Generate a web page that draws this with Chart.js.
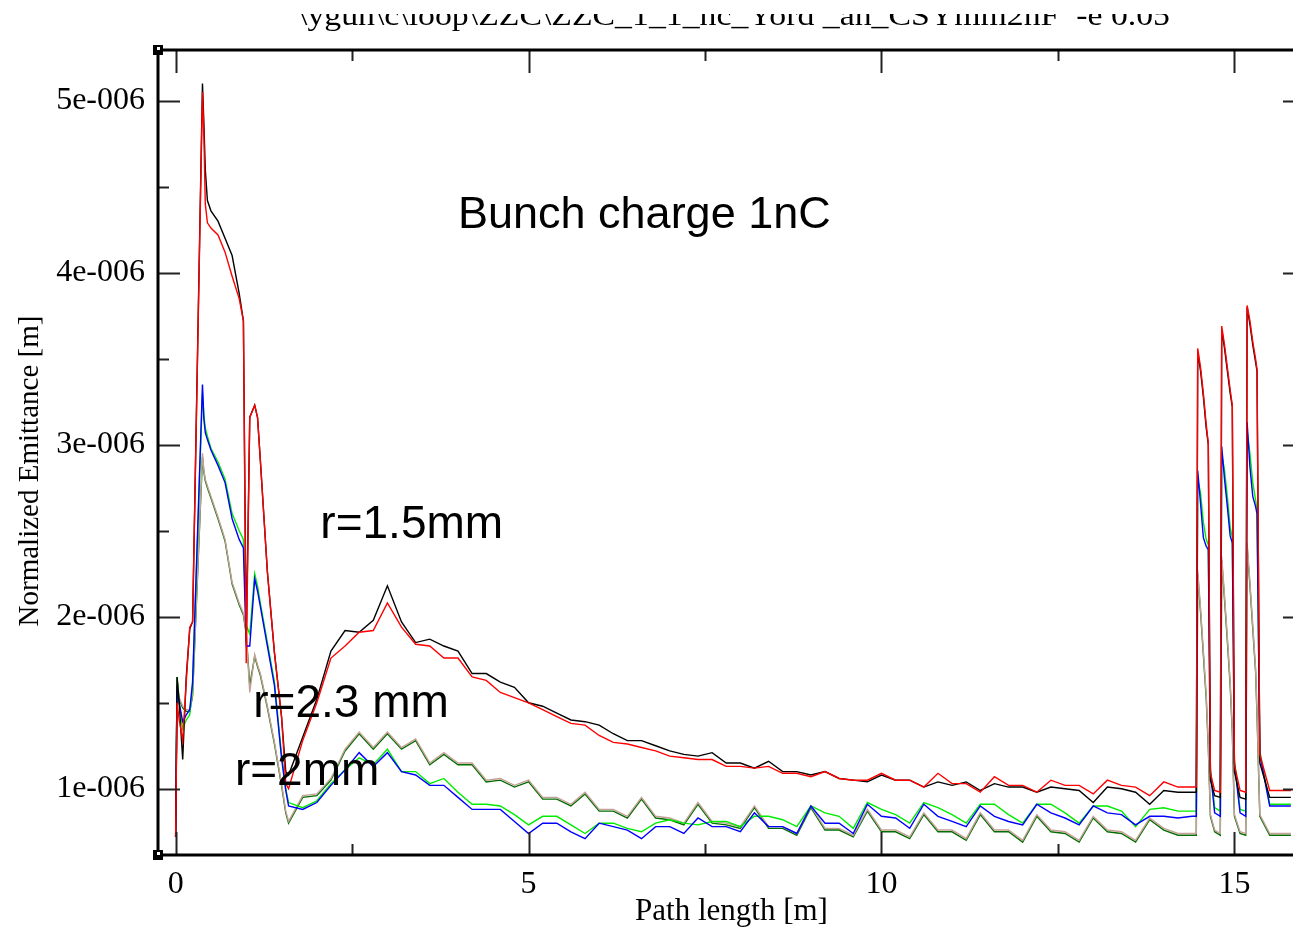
<!DOCTYPE html>
<html>
<head>
<meta charset="utf-8">
<title>Normalized emittance vs path length</title>
<script src="https://cdn.jsdelivr.net/npm/chart.js@4.4.1/dist/chart.umd.min.js"></script>
<style>
  html, body { margin: 0; padding: 0; background: #fff; overflow: hidden; }
  #wrap { position: relative; width: 1320px; height: 930px; }
</style>
</head>
<body>
<div id="wrap"><canvas id="emittance" width="1320" height="930"></canvas></div>
<script>
// path length [m]: dense near the gun, 0.2 m steps in the drift, dense again over the three spikes
const X_PATH = [
  0, 0.02, 0.05, 0.1, 0.15, 0.2, 0.24, 0.38, 0.4, 0.42, 0.45, 0.5, 0.6, 0.7, 0.8, 0.9, 0.96, 1.0, 1.05, 1.12, 1.16, 1.2, 1.3, 1.4, 1.5, 1.56, 1.6,
  1.8, 2.0, 2.2, 2.4, 2.6, 2.8, 3.0, 3.2, 3.4, 3.6,
  3.8, 4.0, 4.2, 4.4, 4.6, 4.8, 5.0, 5.2, 5.4, 5.6,
  5.8, 6.0, 6.2, 6.4, 6.6, 6.8, 7.0, 7.2, 7.4, 7.6,
  7.8, 8.0, 8.2, 8.4, 8.6, 8.8, 9.0, 9.2, 9.4, 9.6,
  9.8, 10.0, 10.2, 10.4, 10.6, 10.8, 11.0, 11.2, 11.4, 11.6,
  11.8, 12.0, 12.2, 12.4, 12.6, 12.8, 13.0, 13.2, 13.4, 13.6,
  13.8, 14.0, 14.2, 14.4,
  14.46, 14.48, 14.52, 14.56, 14.6, 14.63, 14.66, 14.72, 14.8,
  14.82, 14.86, 14.9, 14.94, 14.97, 15.0, 15.08, 15.16,
  15.18, 15.22, 15.26, 15.3, 15.32, 15.36, 15.5, 15.8
];

// normalized emittance, in units of 1e-006 m
const EMIT_BLACK = [
  0.72, 1.65, 1.5, 1.17, 1.65, 1.93, 1.97, 5.1, 4.87, 4.6, 4.42, 4.36, 4.3, 4.2, 4.1, 3.88, 3.72, 1.85, 3.16, 3.23, 3.16, 2.91, 2.26, 1.79, 1.42, 1.1, 1.08,
  1.3, 1.52, 1.8, 1.92, 1.91, 1.98, 2.18, 1.97, 1.85, 1.87,
  1.83, 1.8, 1.67, 1.67, 1.62, 1.59, 1.5, 1.48, 1.44, 1.4,
  1.39, 1.37, 1.32, 1.28, 1.28, 1.25, 1.22, 1.2, 1.19, 1.21,
  1.15, 1.15, 1.12, 1.16, 1.1, 1.1, 1.08, 1.1, 1.06, 1.05,
  1.04, 1.08, 1.05, 1.05, 1.01, 1.04, 1.02, 1.04, 0.99, 1.03,
  1.01, 1.01, 0.98, 1.01, 1.0, 0.99, 0.92, 1.01, 1.0, 0.98,
  0.91, 0.99, 0.98, 0.98,
  0.98, 3.54, 3.43, 3.28, 3.1, 3.0, 1.05, 0.96, 0.95,
  3.67, 3.56, 3.43, 3.3, 3.22, 1.1, 0.95, 0.94,
  3.8, 3.7, 3.58, 3.48, 3.43, 1.15, 0.95, 0.95
];
const EMIT_RED = [
  0.72, 1.5, 1.4, 1.28, 1.62, 1.94, 1.97, 5.05, 4.8, 4.4, 4.29, 4.26, 4.22, 4.12, 3.98, 3.85, 3.72, 1.73, 3.16, 3.23, 3.16, 2.91, 2.26, 1.79, 1.42, 1.03, 1.0,
  1.28, 1.5, 1.76, 1.83, 1.91, 1.92, 2.08, 1.94, 1.84, 1.83,
  1.76, 1.76, 1.65, 1.63, 1.56, 1.53, 1.5, 1.46, 1.42, 1.38,
  1.37, 1.31, 1.27, 1.26, 1.24, 1.22, 1.19, 1.18, 1.17, 1.17,
  1.13, 1.13, 1.12, 1.13, 1.09, 1.09, 1.07, 1.1, 1.06, 1.05,
  1.05, 1.09, 1.05, 1.05, 1.01, 1.09, 1.03, 1.03, 0.98, 1.07,
  1.02, 1.02, 0.98, 1.05, 1.02, 1.02, 0.97, 1.05, 1.02, 1.01,
  0.96, 1.04, 1.01, 1.01,
  1.01, 3.56, 3.45, 3.3, 3.12, 3.01, 1.09, 0.99, 0.98,
  3.69, 3.58, 3.45, 3.32, 3.23, 1.14, 0.99, 0.98,
  3.81, 3.72, 3.6, 3.5, 3.44, 1.2, 0.99, 0.99
];
const EMIT_GREEN = [
  0.72, 1.65, 1.5, 1.35, 1.4, 1.43, 1.6, 3.3, 3.17, 3.1, 3.05, 2.98, 2.9, 2.8, 2.6, 2.5, 2.45, 1.95, 1.9, 2.25, 2.18, 2.08, 1.85, 1.62, 1.2, 1.0, 0.92,
  0.89, 0.93, 1.03, 1.11, 1.18, 1.14, 1.23, 1.1, 1.1, 1.03,
  1.06, 0.98, 0.91, 0.91, 0.9, 0.85, 0.79, 0.84, 0.84, 0.79,
  0.74, 0.8, 0.8, 0.77, 0.75, 0.8, 0.82, 0.8, 0.79, 0.81,
  0.81, 0.78, 0.84, 0.84, 0.82, 0.78, 0.9, 0.86, 0.84, 0.77,
  0.92, 0.88, 0.85, 0.8, 0.92, 0.89, 0.85, 0.8, 0.91, 0.91,
  0.85, 0.8, 0.91, 0.91, 0.86, 0.8, 0.9, 0.9, 0.87, 0.78,
  0.88, 0.89, 0.87, 0.87,
  0.87, 2.8, 2.72, 2.55, 2.45, 2.42, 1.12, 0.89, 0.87,
  2.95, 2.85, 2.7, 2.52, 2.46, 1.17, 0.88, 0.87,
  3.08, 2.95, 2.78, 2.68, 2.62, 1.22, 0.91, 0.91
];
const EMIT_BLUE = [
  0.72, 1.6, 1.5, 1.39, 1.43, 1.46, 1.62, 3.35, 3.15, 3.07, 3.03, 2.97, 2.88, 2.78, 2.57, 2.45, 2.4, 1.83, 1.83, 2.22, 2.15, 2.06, 1.83, 1.6, 1.18, 0.99, 0.9,
  0.88, 0.92, 1.02, 1.11, 1.21, 1.13, 1.21, 1.1, 1.08, 1.02,
  1.02, 0.95, 0.88, 0.88, 0.88, 0.81, 0.74, 0.8, 0.8, 0.75,
  0.71, 0.8, 0.78, 0.76, 0.71, 0.78, 0.78, 0.74, 0.83, 0.78,
  0.78, 0.75, 0.86, 0.78, 0.78, 0.74, 0.9, 0.8, 0.8, 0.74,
  0.91, 0.84, 0.83, 0.77, 0.91, 0.84, 0.81, 0.78, 0.9, 0.84,
  0.81, 0.79, 0.91, 0.86, 0.83, 0.79, 0.9, 0.86, 0.85, 0.79,
  0.84, 0.84, 0.83, 0.84,
  0.84, 2.85, 2.66, 2.46, 2.41, 2.39, 1.1, 0.86, 0.84,
  2.99, 2.8, 2.64, 2.47, 2.43, 1.15, 0.86, 0.84,
  3.13, 2.87, 2.7, 2.64, 2.6, 1.2, 0.9, 0.9
];
const EMIT_BROWN = [
  0.72, 1.65, 1.53, 1.48, 1.46, 1.46, 1.55, 2.95, 2.85, 2.8, 2.76, 2.7, 2.58, 2.45, 2.2, 2.08, 2.02, 1.91, 1.56, 1.78, 1.72, 1.67, 1.48, 1.27, 1.03, 0.87, 0.81,
  0.96, 0.97, 1.06, 1.23, 1.33, 1.24, 1.33, 1.24, 1.29, 1.15,
  1.21, 1.15, 1.15, 1.05, 1.06, 1.02, 1.05, 0.95, 0.95, 0.91,
  0.98, 0.88, 0.88, 0.84, 0.95, 0.84, 0.83, 0.8, 0.92, 0.81,
  0.8, 0.78, 0.9, 0.78, 0.78, 0.74, 0.9, 0.77, 0.77, 0.73,
  0.88, 0.76, 0.76, 0.72, 0.86, 0.76, 0.76, 0.71, 0.86, 0.76,
  0.76, 0.7, 0.85, 0.76, 0.75, 0.7, 0.84, 0.76, 0.75, 0.7,
  0.83, 0.77, 0.74, 0.74,
  0.74, 2.27, 2.05, 1.8, 1.55, 1.26, 0.85, 0.76, 0.74,
  2.35, 2.12, 1.88, 1.62, 1.35, 0.85, 0.75, 0.74,
  2.43, 2.2, 1.95, 1.7, 1.45, 0.85, 0.74, 0.74
];
const EMIT_DKGREEN = [
  0.72, 1.63, 1.52, 1.47, 1.45, 1.45, 1.54, 2.93, 2.84, 2.79, 2.75, 2.69, 2.57, 2.44, 2.19, 2.07, 2.01, 1.9, 1.6, 1.77, 1.71, 1.66, 1.47, 1.26, 1.02, 0.86, 0.8,
  0.95, 0.96, 1.05, 1.22, 1.32, 1.23, 1.32, 1.23, 1.28, 1.14,
  1.2, 1.14, 1.14, 1.04, 1.05, 1.01, 1.04, 0.94, 0.94, 0.9,
  0.97, 0.87, 0.87, 0.83, 0.94, 0.83, 0.82, 0.79, 0.91, 0.8,
  0.79, 0.77, 0.89, 0.77, 0.77, 0.73, 0.89, 0.76, 0.76, 0.72,
  0.87, 0.75, 0.75, 0.71, 0.85, 0.75, 0.75, 0.7, 0.85, 0.75,
  0.75, 0.69, 0.84, 0.75, 0.74, 0.69, 0.83, 0.75, 0.74, 0.69,
  0.82, 0.76, 0.73, 0.73,
  0.73, 2.25, 2.03, 1.78, 1.53, 1.24, 0.84, 0.75, 0.73,
  2.33, 2.1, 1.86, 1.6, 1.33, 0.84, 0.74, 0.73,
  2.41, 2.18, 1.93, 1.68, 1.43, 0.84, 0.73, 0.73
];

const X_TICKS = [0, 5, 10, 15];
const X_MINOR_TICKS = [2.5, 7.5, 12.5];
const Y_TICKS = [1, 2, 3, 4, 5];
const Y_MINOR_TICKS = [1.5, 2.5, 3.5, 4.5];

// first dataset is drawn on top
const SERIES = [
  { label: 'r=1.5mm (a)', values: EMIT_RED, color: 'rgb(255, 0, 0)' },
  { label: 'r=1.5mm (b)', values: EMIT_BLACK, color: 'rgb(0, 0, 0)' },
  { label: 'r=2mm (a)', values: EMIT_BLUE, color: 'rgb(0, 0, 255)' },
  { label: 'r=2mm (b)', values: EMIT_GREEN, color: 'rgb(0, 235, 0)' },
  { label: 'r=2.3 mm (a)', values: EMIT_BROWN, color: 'rgb(196, 160, 150)' },
  { label: 'r=2.3 mm (b)', values: EMIT_DKGREEN, color: 'rgb(0, 110, 0)' }
];

// text placed in data coordinates: x [m], y [1e-006 m] at the baseline
const NOTES = [
  { text: 'Bunch charge 1nC', x: 4.0, y: 4.26, size: 45 },
  { text: 'r=1.5mm', x: 2.05, y: 2.46, size: 46 },
  { text: 'r=2.3 mm', x: 1.1, y: 1.42, size: 46 },
  { text: 'r=2mm', x: 0.84, y: 1.02, size: 46 }
];

const SERIF = '"Liberation Serif", "DejaVu Serif", serif';
const SANS = '"Liberation Sans", Arial, sans-serif';

SERIES.forEach(s => {
  if (s.values.length !== X_PATH.length) console.error(s.label, s.values.length, X_PATH.length);
});

const framePlugin = {
  id: 'xmgraceFrame',
  afterDatasetsDraw(chart) {
    const { ctx, chartArea: a, scales: { x, y } } = chart;
    ctx.save();

    // inward ticks on all four sides
    ctx.strokeStyle = '#222';
    ctx.lineWidth = 2;
    const xTick = (v, len) => {
      const px = Math.round(x.getPixelForValue(v)) + 0.5;
      ctx.beginPath();
      ctx.moveTo(px, a.bottom); ctx.lineTo(px, a.bottom - len);
      ctx.moveTo(px, a.top); ctx.lineTo(px, a.top + len);
      ctx.stroke();
    };
    const yTick = (v, len) => {
      const py = Math.round(y.getPixelForValue(v)) + 0.5;
      ctx.beginPath();
      ctx.moveTo(a.left, py); ctx.lineTo(a.left + len, py);
      ctx.moveTo(a.right, py); ctx.lineTo(a.right - len, py);
      ctx.stroke();
    };
    X_TICKS.forEach(v => xTick(v, 23));
    X_MINOR_TICKS.forEach(v => xTick(v, 11));
    Y_TICKS.forEach(v => yTick(v, 22));
    Y_MINOR_TICKS.forEach(v => yTick(v, 11));

    // frame
    ctx.strokeStyle = '#000';
    ctx.lineWidth = 3;
    ctx.strokeRect(a.left, a.top, a.right - a.left, a.bottom - a.top);

    // selection handles on the left corners
    [a.top, a.bottom].forEach(cy => {
      ctx.fillStyle = '#000';
      ctx.fillRect(a.left - 5, cy - 5, 10, 10);
      ctx.fillStyle = '#fff';
      ctx.fillRect(a.left - 1, cy - 3, 3, 3);
    });

    // y axis title, drawn here so it sits where the original has it
    ctx.fillStyle = '#000';
    ctx.font = '29px ' + SERIF;
    ctx.textAlign = 'center';
    ctx.textBaseline = 'middle';
    ctx.save();
    ctx.translate(30, 471);
    ctx.rotate(-Math.PI / 2);
    ctx.fillText('Normalized Emittance [m]', 0, 0);
    ctx.restore();

    // annotations
    ctx.textAlign = 'left';
    ctx.textBaseline = 'alphabetic';
    NOTES.forEach(n => {
      ctx.font = n.size + 'px ' + SANS;
      ctx.fillText(n.text, x.getPixelForValue(n.x), y.getPixelForValue(n.y));
    });

    // cut-off file path above the plot
    const path = '\\ygun\\c\\loop\\ZZC\\ZZC_1_1_nc_Yord _an_CSYmm2nF  -e 0.05';
    ctx.font = '30px ' + SERIF;
    const w = ctx.measureText(path).width;
    ctx.save();
    ctx.translate(298, 25);
    ctx.scale(872 / w, 1);
    ctx.fillText(path, 0, 0);
    ctx.restore();
    ctx.fillStyle = '#fff';
    ctx.fillRect(0, 0, chart.width, 14);

    ctx.restore();
  }
};

const ctx = document.getElementById('emittance').getContext('2d');
new Chart(ctx, {
  type: 'line',
  data: {
    datasets: SERIES.map(s => ({
      label: s.label,
      data: X_PATH.map((xv, i) => ({ x: xv, y: s.values[i] })),
      borderColor: s.color,
      backgroundColor: s.color,
      borderWidth: 1.4,
      pointRadius: 0,
      tension: 0,
      fill: false
    }))
  },
  options: {
    responsive: false,
    animation: false,
    layout: { padding: { top: 50, right: 15, bottom: 0, left: 0 } },
    plugins: {
      legend: { display: false },
      tooltip: { enabled: false }
    },
    scales: {
      x: {
        type: 'linear',
        min: -0.25,
        max: 16,
        afterBuildTicks: s => { s.ticks = X_TICKS.map(v => ({ value: v })); },
        afterFit: s => { s.height = 75; },
        grid: { display: false, drawTicks: false },
        border: { display: false },
        ticks: {
          color: '#000',
          font: { family: SERIF, size: 32 },
          padding: 10,
          maxRotation: 0,
          callback: v => String(v)
        },
        title: {
          display: true,
          text: 'Path length [m]',
          color: '#000',
          font: { family: SERIF, size: 31 },
          padding: { top: 0, bottom: 0 }
        }
      },
      y: {
        type: 'linear',
        min: 0.615,
        max: 5.295,
        afterBuildTicks: s => { s.ticks = Y_TICKS.map(v => ({ value: v })); },
        afterFit: s => { s.width = 158; },
        grid: { display: false, drawTicks: false },
        border: { display: false },
        ticks: {
          color: '#000',
          font: { family: SERIF, size: 32 },
          padding: 13,
          callback: v => v + 'e-006'
        }
      }
    }
  },
  plugins: [framePlugin]
});
</script>
</body>
</html>
